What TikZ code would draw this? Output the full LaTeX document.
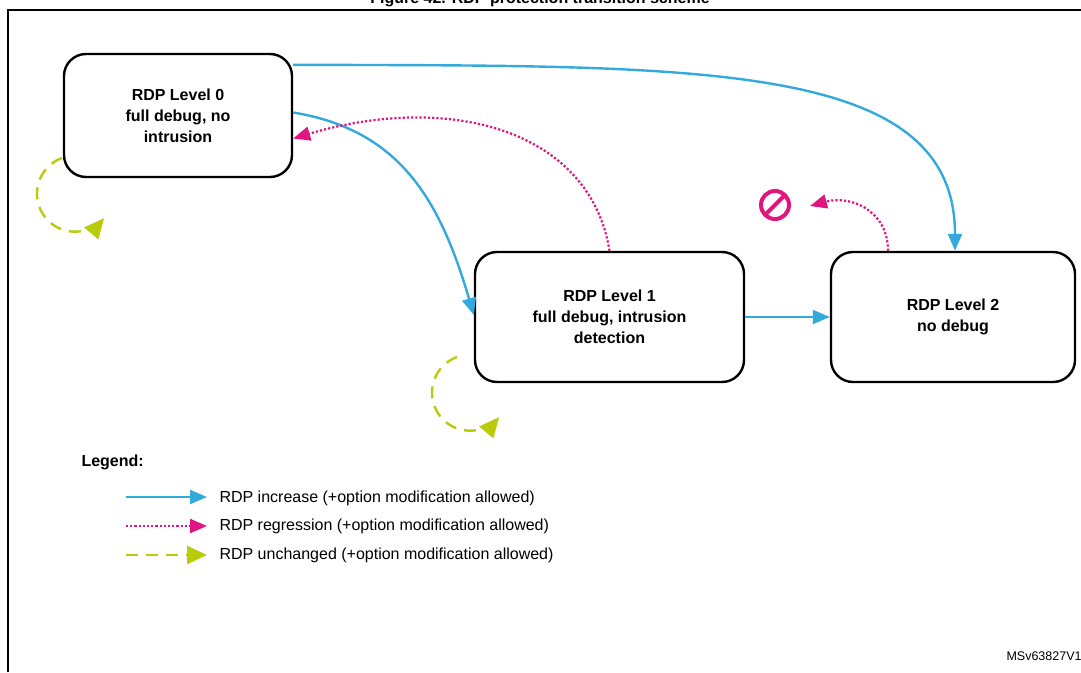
\documentclass[tikz,border=0pt]{standalone}
\usepackage{fontspec}
\setmainfont{Liberation Sans}
\usetikzlibrary{arrows.meta,calc}
\definecolor{rblue}{HTML}{33A9DC}
\definecolor{rpink}{HTML}{E0157F}
\definecolor{rgreen}{HTML}{B9CC0A}
\begin{document}
\begin{tikzpicture}[x=1pt,y=-1pt,
  state/.style={draw,line width=2.4pt,rounded corners=22pt,align=center,font=\bfseries\fontsize{16}{21}\selectfont},
  inc/.style={rblue,line width=2.4pt,-{Triangle[length=17pt,width=14pt]}},
  reg/.style={rpink,line width=2.2pt,dotted,-{Triangle[length=17pt,width=14pt]}},
  unc/.style={rgreen,line width=2.4pt,dash pattern=on 12pt off 8pt,-{Triangle[length=20pt,width=18pt]}},
  lab/.style={font=\fontsize{16}{19}\selectfont,anchor=west}]
\useasboundingbox (0,0) rectangle (1081,672);
\node[font=\bfseries\fontsize{16}{19}\selectfont] (title) at (540,-1) {Figure 42. RDP protection transition scheme};
\draw[line width=1.6pt] (8,672) -- (8,10) -- (1090,10);
\node[state,minimum width=228pt,minimum height=123pt] (l0) at (178,115.5) {RDP Level 0\\full debug, no\\intrusion};
\node[state,minimum width=269pt,minimum height=130pt] (l1) at (609.5,317) {RDP Level 1\\full debug, intrusion\\detection};
\node[state,minimum width=244pt,minimum height=130pt] (l2) at (953,317) {RDP Level 2\\no debug};
\draw[inc] (l0.north east) ++(0,12) coordinate (a0) .. controls (700,66) and (955,60) .. (l2.north -| 955,0);
\draw[inc] ([yshift=3pt]l0.east) .. controls (400,130) and (440,200) .. ([yshift=2pt]l1.west);
\draw[reg] (l1.north) .. controls (590,130) and (450,92) .. ([yshift=-23pt]l0.east);
\draw[inc] (l1.east) -- (l2.west);
\coordinate (nf) at (775,205);
\draw[reg] (l2.north -| 888,0) .. controls (888,210) and (850,195) .. (810,206);
\draw[rpink,line width=4pt] (nf) circle (14pt);
\draw[rpink,line width=4pt] ($(nf)+(-10,10)$) -- ($(nf)+(10,-10)$);
\draw[unc] (62,158) arc (250:40:38);
\draw[unc] (457,357) arc (250:40:38);
\node[font=\bfseries\fontsize{16}{19}\selectfont,anchor=west] (lg) at (78,462) {Legend:};
\coordinate (la) at (126,497); \coordinate (lb) at (207,497);
\draw[inc] (la) -- (lb);
\node[lab] (t1) at (216,498) {RDP increase (+option modification allowed)};
\coordinate (lc) at (126,526); \coordinate (ld) at (207,526);
\draw[reg] (lc) -- (ld);
\node[lab] (t2) at (216,526) {RDP regression (+option modification allowed)};
\coordinate (le) at (126,555); \coordinate (lf) at (207,555);
\draw[unc] (le) -- (lf);
\node[lab] (t3) at (216,555) {RDP unchanged (+option modification allowed)};
\node[font=\fontsize{12.5}{15}\selectfont,anchor=west] (ms) at (1003,656) {MSv63827V1};
\end{tikzpicture}
\end{document}
